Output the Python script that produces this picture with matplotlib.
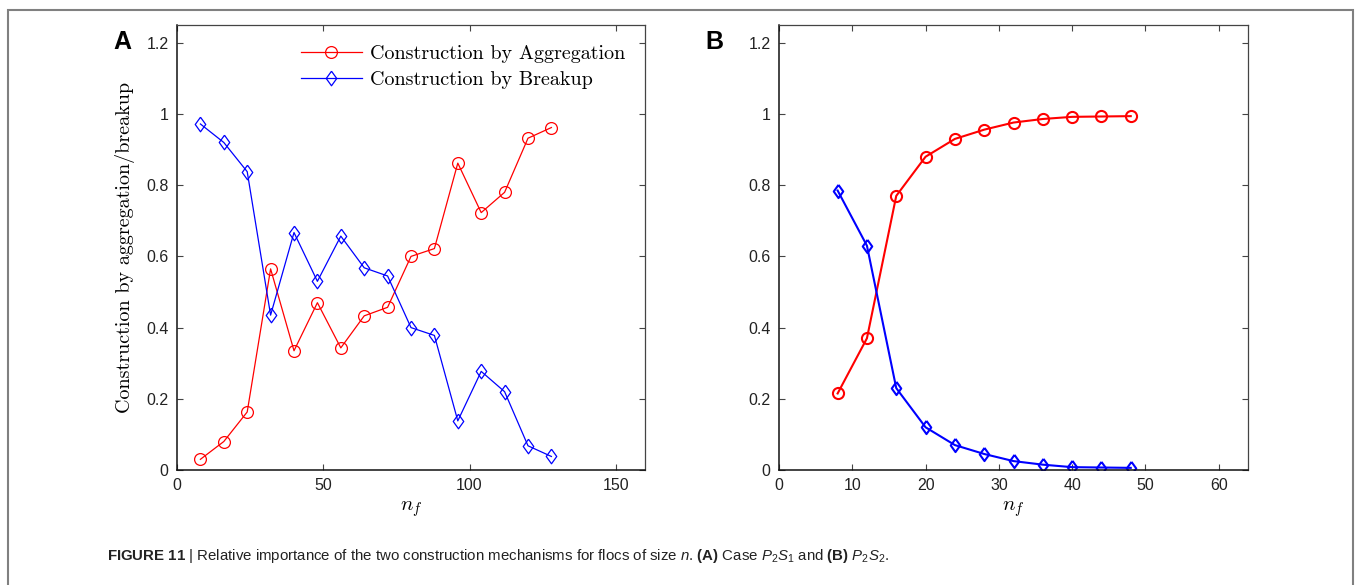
"""Relative importance of the two floc construction mechanisms (Figure 11)."""
import matplotlib
matplotlib.use("Agg")
import matplotlib.pyplot as plt
from matplotlib.patches import Rectangle
from matplotlib.ticker import FuncFormatter

# panel A: case P2S1
nf_a = [8, 16, 24, 32, 40, 48, 56, 64, 72, 80, 88, 96, 104, 112, 120, 128]
agg_a = [0.030, 0.080, 0.163, 0.565, 0.335, 0.470, 0.343, 0.433, 0.457,
         0.600, 0.622, 0.862, 0.723, 0.780, 0.932, 0.962]
brk_a = [0.972, 0.920, 0.838, 0.435, 0.667, 0.530, 0.657, 0.568, 0.545,
         0.400, 0.378, 0.138, 0.277, 0.220, 0.068, 0.038]

# panel B: case P2S2
nf_b = [8, 12, 16, 20, 24, 28, 32, 36, 40, 44, 48]
agg_b = [0.215, 0.370, 0.770, 0.880, 0.930, 0.956, 0.976, 0.986, 0.992, 0.993, 0.994]
brk_b = [0.785, 0.630, 0.230, 0.120, 0.070, 0.045, 0.025, 0.015, 0.008, 0.007, 0.006]

xticks_a = [0, 50, 100, 150]
xticks_b = [0, 10, 20, 30, 40, 50, 60]
yticks = [0, 0.2, 0.4, 0.6, 0.8, 1.0, 1.2]

plt.rcParams["font.family"] = "Liberation Sans"
plt.rcParams["mathtext.fontset"] = "custom"
plt.rcParams["mathtext.rm"] = "Liberation Sans"
plt.rcParams["mathtext.it"] = "Liberation Sans:italic"
plt.rcParams["mathtext.bf"] = "Liberation Sans:bold"

RED = (1, 0, 0)
BLUE = (0, 0, 1)
# MATLAB-style diamond: a bit wider than matplotlib's thin diamond
DIAMOND = [(0, 1), (0.72, 0), (0, -1), (-0.72, 0), (0, 1)]
W, H = 1356, 585


def style_axes(ax, xmax, xticks):
    ax.set_xlim(0, xmax)
    ax.set_ylim(0, 1.25)
    ax.set_xticks(xticks)
    ax.set_yticks(yticks)
    fmt = FuncFormatter(lambda v, _: f"{v:g}")
    ax.xaxis.set_major_formatter(fmt)
    ax.yaxis.set_major_formatter(fmt)
    ax.tick_params(direction="in", top=True, right=True, length=4.5, width=0.8,
                   color="#444444", labelsize=11.5, labelcolor="#222222", pad=6)
    for side in ("left", "bottom"):
        ax.spines[side].set_linewidth(1.1)
        ax.spines[side].set_color("#111111")
    for side in ("top", "right"):
        ax.spines[side].set_linewidth(0.9)
        ax.spines[side].set_color("#444444")
    ax.set_xlabel(r"$n_f$", fontsize=15, math_fontfamily="cm", labelpad=4)


fig = plt.figure(figsize=(W / 100, H / 100), dpi=100)

ax_a = fig.add_axes([177 / W, 1 - 470 / H, 468 / W, 445 / H])
ax_a.plot(nf_a, agg_a, color=RED, lw=0.9, marker="o", ms=8.5, mfc="none",
          mew=0.9, label="Construction by Aggregation")
ax_a.plot(nf_a, brk_a, color=BLUE, lw=0.9, marker=DIAMOND, ms=10.5, mfc="none",
          mew=0.9, label="Construction by Breakup")
style_axes(ax_a, 160, xticks_a)
ax_a.set_ylabel("Construction by aggregation/breakup", fontsize=14.5,
                family="cmr10", labelpad=8)
ax_a.legend(loc="upper right", bbox_to_anchor=(1.0, 1.0), frameon=False,
            prop={"family": "cmr10", "size": 14.5}, handlelength=3.0,
            handletextpad=0.4, labelspacing=0.4, borderaxespad=0.8,
            borderpad=0.2)

ax_b = fig.add_axes([779 / W, 1 - 470 / H, 469 / W, 445 / H])
ax_b.plot(nf_b, agg_b, color=RED, lw=1.5, marker="o", ms=8, mfc="none", mew=1.5)
ax_b.plot(nf_b, brk_b, color=BLUE, lw=1.5, marker=DIAMOND, ms=9.5, mfc="none", mew=1.5)
style_axes(ax_b, 64, xticks_b)

fig.text(122 / W, 1 - 42 / H, "A", fontsize=18, fontweight="bold", ha="center", va="center")
fig.text(714 / W, 1 - 42 / H, "B", fontsize=18, fontweight="bold", ha="center", va="center")

caption = (r"$\mathbf{FIGURE\ 11}$ | Relative importance of the two construction mechanisms "
           r"for flocs of size $n$. $\mathbf{(A)}$ Case $P_2S_1$ and $\mathbf{(B)}$ $P_2S_2$.")
fig.text(107 / W, 1 - 556 / H, caption, fontsize=10.85, va="center", ha="left", color="#222222")

frame = Rectangle((8 / W, -0.05), (1353 - 8) / W, 1.05 - 10 / H, transform=fig.transFigure,
                  fill=False, edgecolor="#808080", lw=1.5, clip_on=False)
fig.patches.append(frame)

fig.savefig("out.png", dpi=100)
